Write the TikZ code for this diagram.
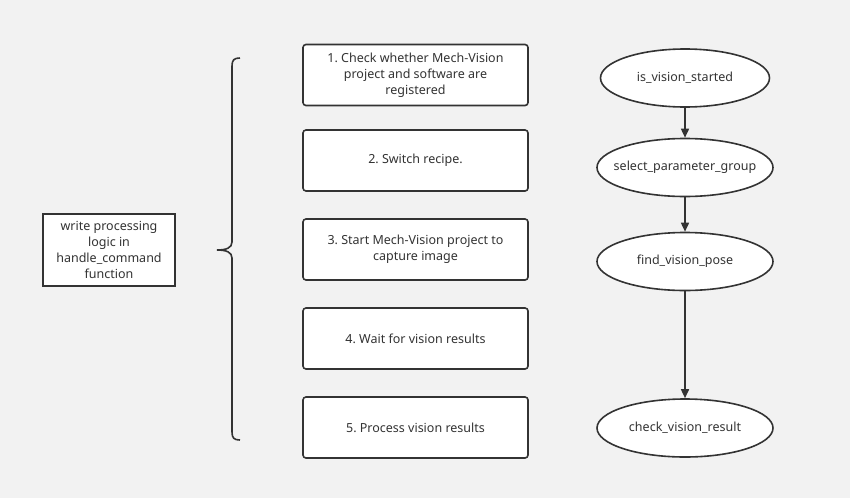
\documentclass[tikz,border=0pt]{standalone}
\usepackage{fontspec}
\setmainfont{Noto Sans}
\usetikzlibrary{shapes.geometric,arrows.meta}
\definecolor{bg}{HTML}{F2F2F2}
\definecolor{ink}{HTML}{333333}
\frenchspacing
\begin{document}
\begin{tikzpicture}[x=1pt,y=-1pt,
  every node/.style={font=\fontsize{12.5}{16}\selectfont, text=ink},
  stepbox/.style={draw=ink, line width=1.6pt, fill=white, rounded corners=3pt, minimum width=225pt, minimum height=61pt, align=center, inner sep=0pt},
  oval/.style={ellipse, draw=ink, line width=1.6pt, fill=white, minimum width=176pt, minimum height=58pt, inner xsep=-25pt, inner ysep=0pt},
  flow/.style={draw=ink, line width=1.6pt, -{Triangle[length=9pt,width=8pt]}}]
\fill[bg] (0,0) rectangle (850,498);
\useasboundingbox (0,0) rectangle (850,498);
\node[draw=ink, line width=1.6pt, fill=white, minimum width=132pt, minimum height=72pt, align=center, inner sep=0pt] (main) at (109,250) {write processing\\logic in\\handle\_command\\function};
\draw[ink, line width=1.6pt] (240,58) .. controls (234,58) and (232,60) .. (232,66) -- (232,242) .. controls (232,248) and (226,250) .. (217,250) .. controls (226,250) and (232,252) .. (232,258) -- (232,432) .. controls (232,438) and (234,440) .. (240,440);
\node[stepbox] (s1) at (415.5,75) {1. Check whether Mech-Vision\\project and software are\\registered};
\node[stepbox] (s2) at (415.5,160.5) {2. Switch recipe.};
\node[stepbox] (s3) at (415.5,249.5) {3. Start Mech-Vision project to\\capture image};
\node[stepbox] (s4) at (415.5,338.5) {4. Wait for vision results};
\node[stepbox] (s5) at (415.5,427.5) {5. Process vision results};
\node[oval, minimum width=169pt] (e1) at (685,78) {is\_vision\_started};
\node[oval] (e2) at (685,167.5) {select\_parameter\_group};
\node[oval] (e3) at (685,261.5) {find\_vision\_pose};
\node[oval] (e4) at (685,428) {check\_vision\_result};
\draw[flow] (e1) -- (e2);
\draw[flow] (e2) -- (e3);
\draw[flow] (e3) -- (e4);
\end{tikzpicture}
\end{document}
